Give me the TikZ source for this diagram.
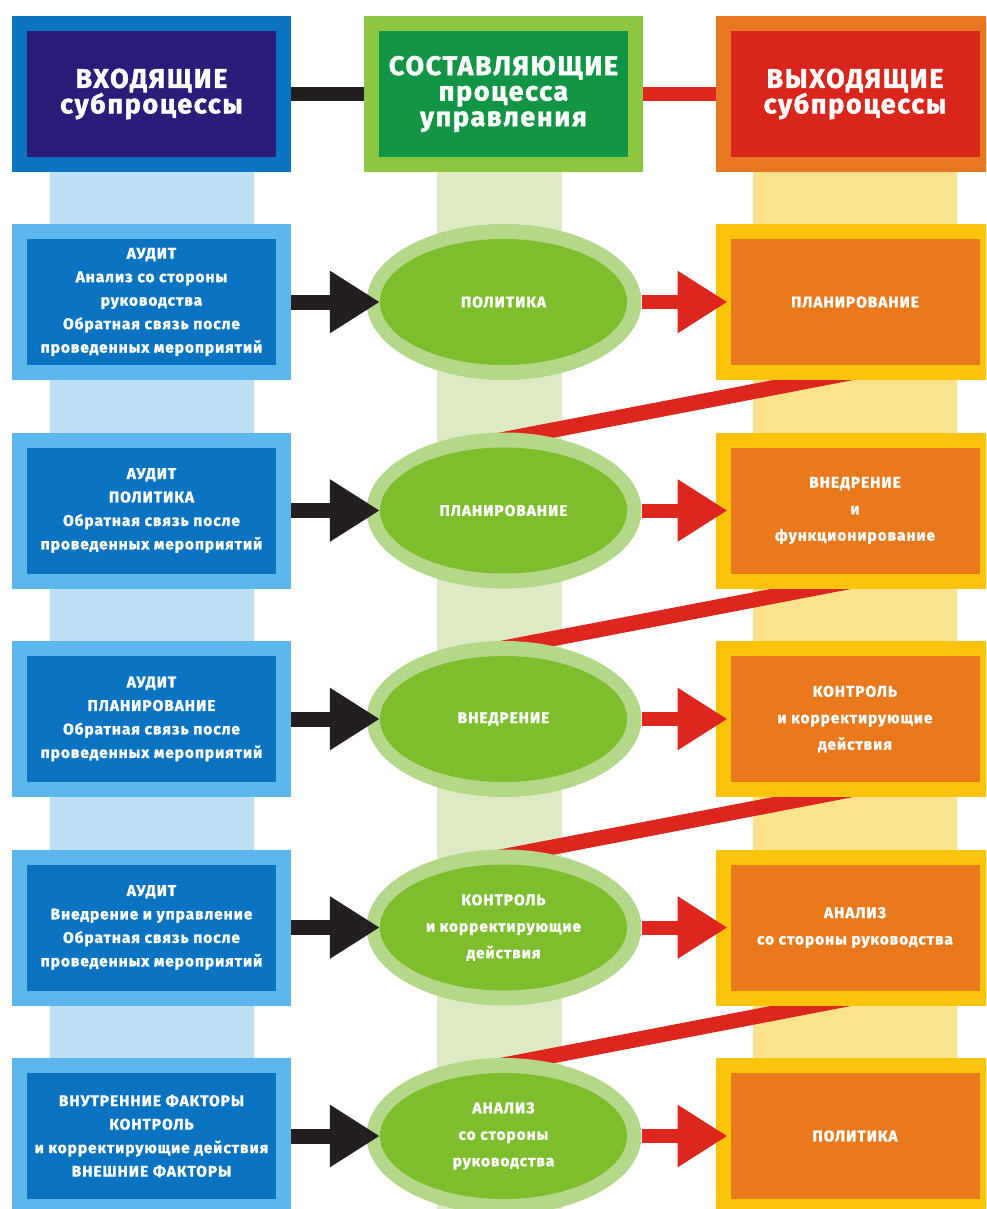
\documentclass[tikz,border=0pt]{standalone}
\usepackage{fontspec}
\newfontfamily\diagfont{Fira Sans}[LetterSpace=6,BoldFeatures={FakeBold=1.5}]
\usetikzlibrary{shapes.geometric,arrows.meta}
\definecolor{navy}{RGB}{42,28,120}
\definecolor{inblue}{RGB}{10,116,194}
\definecolor{inlight}{RGB}{92,184,236}
\definecolor{incol}{RGB}{190,224,246}
\definecolor{hdgreen}{RGB}{18,150,70}
\definecolor{hdlime}{RGB}{141,198,63}
\definecolor{ringgreen}{RGB}{179,216,138}
\definecolor{phgreen}{RGB}{125,190,44}
\definecolor{midcol}{RGB}{221,234,196}
\definecolor{hdred}{RGB}{218,37,28}
\definecolor{hdorange}{RGB}{232,119,34}
\definecolor{outorange}{RGB}{233,121,28}
\definecolor{outyellow}{RGB}{252,195,11}
\definecolor{outcol}{RGB}{251,227,142}
\definecolor{arrowred}{RGB}{220,38,30}
\definecolor{arrowblack}{RGB}{35,31,32}
\begin{document}
\begin{tikzpicture}[x=1pt,y=-1pt,line join=miter,
		box/.style={draw,line width=15pt,minimum width=264pt,minimum height=141pt,inner sep=0pt,align=center,text=white},
		hdtext/.style={font=\diagfont\bfseries\fontsize{27}{25.5}\selectfont},
		intext/.style={font=\diagfont\bfseries\fontsize{15.5}{23.5}\selectfont},
		outtext/.style={align=center,text=white,font=\diagfont\bfseries\fontsize{15.5}{26.5}\selectfont},
		ring/.style={ellipse,fill=ringgreen,minimum width=275pt,minimum height=156pt,inner sep=0pt},
		phase/.style={ellipse,fill=phgreen,minimum width=247pt,minimum height=126pt,inner sep=0pt},
		blackarrow/.style={arrowblack,line width=15pt,-{Triangle[length=50pt,width=59pt]}},
		redarrow/.style={arrowred,line width=14pt,-{Triangle[length=50pt,width=59pt]}}]
	\clip (0,0) rectangle (986,1209);
	\fill[incol] (50,172) rectangle (254,1209);
	\fill[midcol] (437,172) rectangle (562,1209);
	\fill[outcol] (753,172) rectangle (957,1209);
	\foreach \k in {1,...,4}{
		\pgfmathsetmacro\c{302+208.5*(\k-1)}
		\fill[arrowred] (815,\c+70) -- (895,\c+70) -- (550,\c+136.4) -- (470,\c+136.2) -- cycle;
	}
	\node[box,hdtext,draw=inblue,fill=navy] (hin) at (151.5,94) {ВХОДЯЩИЕ\\субпроцессы};
	\node[box,hdtext,draw=hdlime,fill=hdgreen] (hmid) at (503.5,94) {СОСТАВЛЯЮЩИЕ\\процесса\\управления};
	\node[box,hdtext,draw=hdorange,fill=hdred] (hout) at (855,94) {ВЫХОДЯЩИЕ\\субпроцессы};
	\draw[arrowblack,line width=14pt] (hin.east) -- (hmid.west);
	\draw[arrowred,line width=14pt] (hmid.east) -- (hout.west);
	\foreach \k/\intxt/\phtxt/\outtxt in {
		1/{АУДИТ\\Анализ со стороны\\руководства\\Обратная связь после\\проведенных мероприятий}/{ПОЛИТИКА}/{ПЛАНИРОВАНИЕ},
		2/{АУДИТ\\ПОЛИТИКА\\Обратная связь после\\проведенных мероприятий}/{ПЛАНИРОВАНИЕ}/{ВНЕДРЕНИЕ\\и\\функционирование},
		3/{АУДИТ\\ПЛАНИРОВАНИЕ\\Обратная связь после\\проведенных мероприятий}/{ВНЕДРЕНИЕ}/{КОНТРОЛЬ\\и корректирующие\\действия},
		4/{АУДИТ\\Внедрение и управление\\Обратная связь после\\проведенных мероприятий}/{КОНТРОЛЬ\\и корректирующие\\действия}/{АНАЛИЗ\\со стороны руководства},
		5/{ВНУТРЕННИЕ ФАКТОРЫ\\КОНТРОЛЬ\\и корректирующие действия\\ВНЕШНИЕ ФАКТОРЫ}/{АНАЛИЗ\\со стороны\\руководства}/{ПОЛИТИКА}}{
		\pgfmathsetmacro\c{302+208.5*(\k-1)}
		\node[box,intext,draw=inlight,fill=inblue] (in\k) at (151.5,\c) {\intxt};
		\node[ring] (ring\k) at (504,\c) {};
		\node[phase] (ph\k) at (503.5,\c) {};
		\node[outtext] (pt\k) at (ph\k) {\phtxt};
		\node[box,outtext,draw=outyellow,fill=outorange] (out\k) at (855,\c) {\outtxt};
		\draw[blackarrow] (in\k.east) -- (ph\k.west);
		\draw[redarrow,shorten >=-12pt] (ring\k.east) -- (out\k.west);
	}
\end{tikzpicture}
\end{document}
